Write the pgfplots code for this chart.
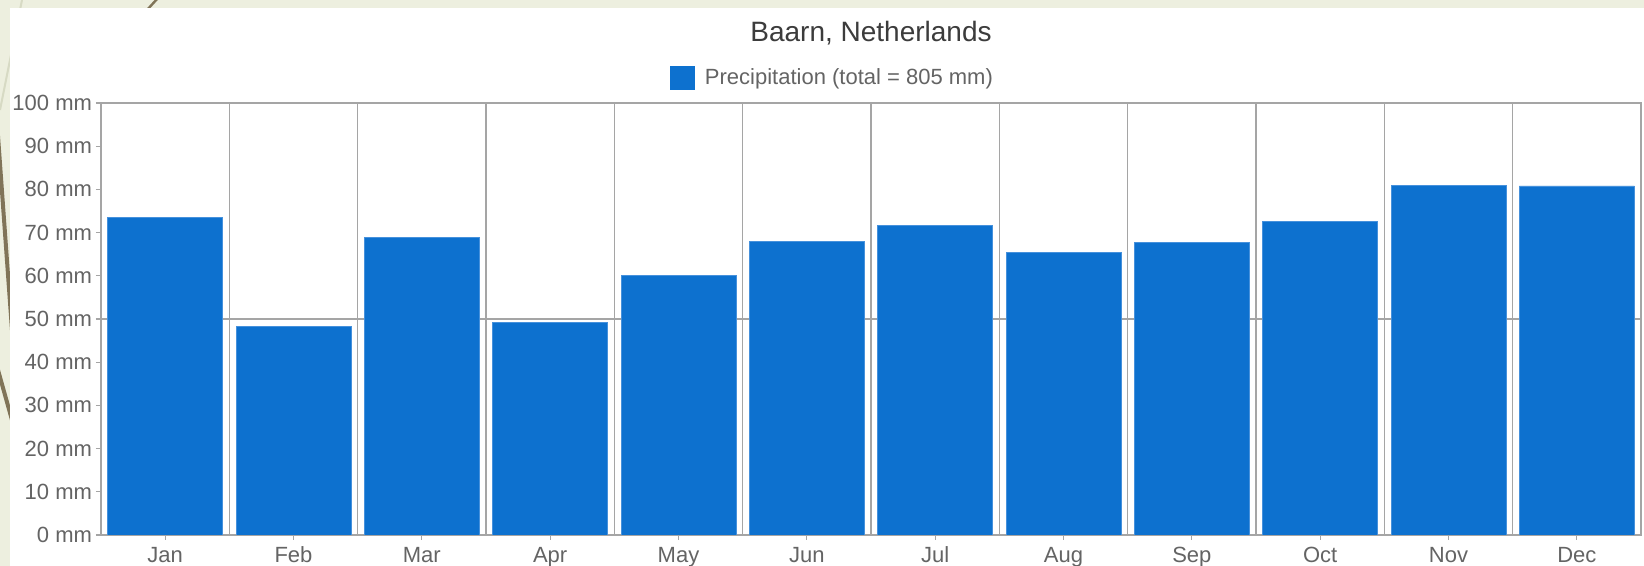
\documentclass[border=0pt]{standalone}
\usepackage{pgfplots}
\pgfplotsset{compat=1.18}
\usepackage{fontspec}
\setmainfont{Liberation Sans}
\definecolor{barblue}{RGB}{13,113,207}
\definecolor{baredge}{RGB}{70,145,220}
\definecolor{gridgray}{RGB}{165,165,165}
\definecolor{ticktext}{RGB}{100,100,100}
\definecolor{titletext}{RGB}{60,60,60}
\definecolor{bgbeige}{RGB}{237,239,223}
\definecolor{brownline}{RGB}{128,116,88}
\definecolor{paleline}{RGB}{215,218,196}
\begin{document}
\begin{tikzpicture}
\useasboundingbox (0,0) rectangle (822pt,283pt);
% page background
\fill[bgbeige] (0,0) rectangle (822pt,283pt);
\draw[paleline, line width=1pt] (11pt,283pt) -- (0pt,228pt);
\draw[brownline, line width=2pt] (-1pt,215pt) -- (6pt,118pt);
\draw[brownline, line width=2pt] (-1pt,98pt) -- (6pt,73pt);
\draw[brownline, line width=1.2pt] (73.5pt,278pt) -- (79pt,284pt);
\fill[white] (5pt,0) rectangle (822pt,279pt);
\begin{axis}[
  at={(50.5pt,15.5pt)}, anchor=south west,
  scale only axis, width=770pt, height=216pt,
  ybar, bar width=57.5pt,
  xmin=-0.5, xmax=11.5, ymin=0, ymax=100,
  xtick={0,1,2,3,4,5,6,7,8,9,10,11},
  xticklabels={Jan,Feb,Mar,Apr,May,Jun,Jul,Aug,Sep,Oct,Nov,Dec},
  minor xtick={0.5,1.5,2.5,3.5,4.5,5.5,6.5,7.5,8.5,9.5,10.5},
  xminorgrids,
  ytick={0,10,20,30,40,50,60,70,80,90,100},
  yticklabel={\pgfmathprintnumber{\tick}~mm},
  /pgf/number format/assume math mode=true,
  extra y ticks={50}, extra y tick labels={},
  extra y tick style={ymajorgrids=true, major tick length=0pt},
  major grid style={draw=gridgray, line width=0.6pt},
  minor grid style={draw=gridgray, line width=0.6pt},
  minor tick length=0pt,
  xtick pos=bottom, ytick pos=left,
  tick align=outside,
  major tick length=2.5pt,
  tick style={draw=gridgray, line width=0.6pt},
  axis line style={draw=gridgray, line width=0.6pt},
  ticklabel style={font=\fontsize{11}{13}\selectfont, text=ticktext},
  xticklabel style={text height=8pt, text depth=2pt, yshift=0.5pt},
  yticklabel style={xshift=1.5pt},
  title={Baarn, Netherlands},
  title style={font=\fontsize{14}{16}\selectfont, text=titletext, at={(0.5,1)}, anchor=center, yshift=29pt},
  legend style={at={(0.4756,1)}, anchor=center, yshift=12.5pt, draw=none, fill=none,
    font=\fontsize{11}{13}\selectfont, text=ticktext,
    legend cell align=left},
  legend image code/.code={\fill[barblue, draw=none] (0pt,-6.2pt) rectangle (12.4pt,6.2pt); \path[draw=none, fill=none] (0pt,0pt) -- (15.5pt,0pt);},
  axis background/.style={fill=white},
]
\addplot[fill=barblue, draw=baredge, line width=0.4pt, bar shift=0pt] coordinates {
  (0,73.5) (1,48.3) (2,68.9) (3,49.3) (4,60.0) (5,68.0)
  (6,71.6) (7,65.3) (8,67.7) (9,72.6) (10,81.0) (11,80.8)
};
\addlegendentry{Precipitation (total = 805 mm)}
\end{axis}
\end{tikzpicture}
\end{document}
